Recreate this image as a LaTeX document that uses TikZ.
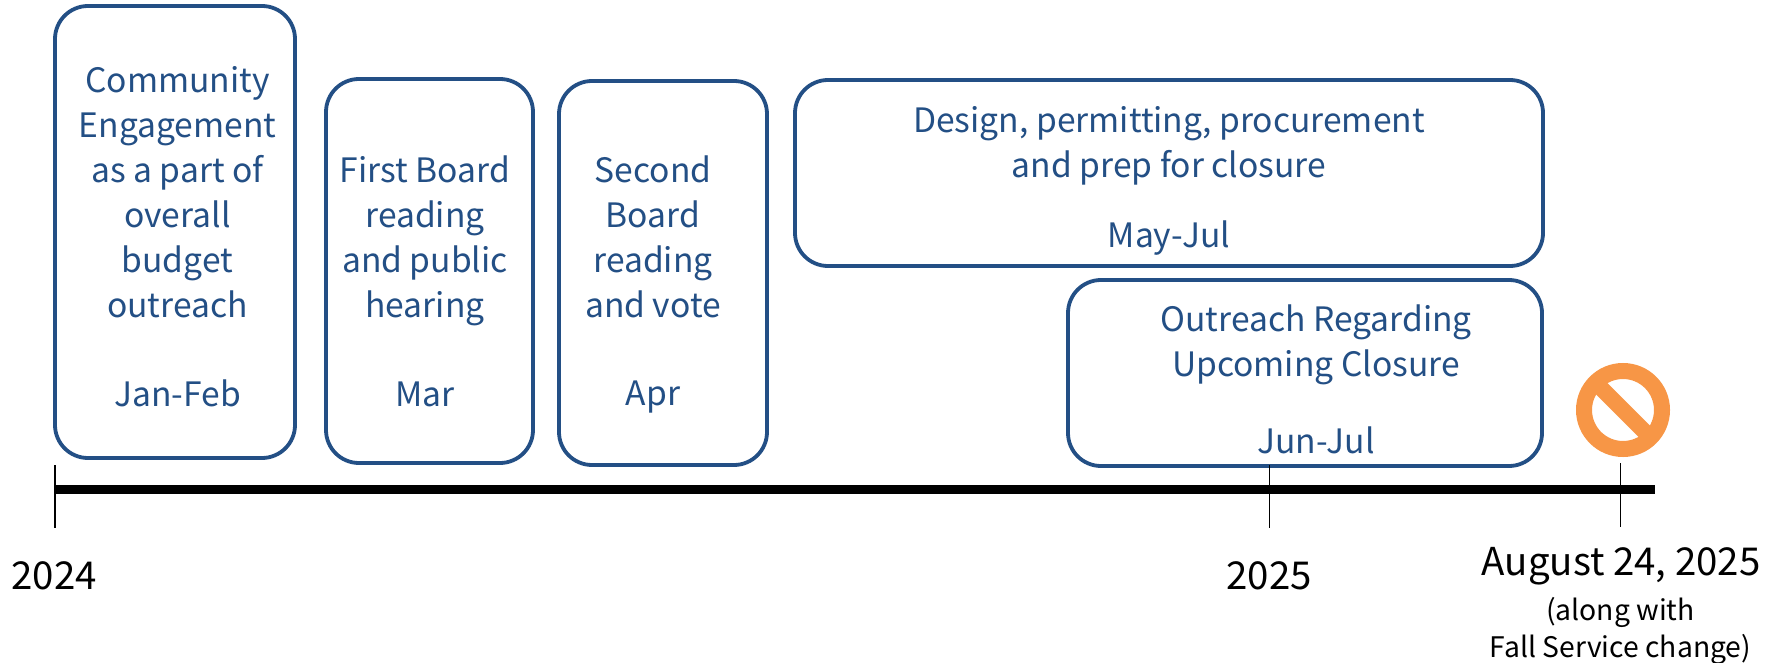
\documentclass[tikz,border=0pt]{standalone}
\usepackage{fontspec}
\setmainfont{Noto Sans CJK SC}
\definecolor{boxblue}{HTML}{234F85}
\definecolor{stoporange}{HTML}{F79646}
\begin{document}
\begin{tikzpicture}[x=1pt,y=-1pt,
  phase/.style={draw=boxblue,line width=3.8pt,rounded corners=33pt,fill=white},
  txt/.style={text=boxblue,font=\fontsize{33.6}{45}\selectfont,align=center,inner sep=0pt,anchor=center},
  dateblack/.style={text=black,font=\fontsize{38.4}{45}\selectfont,inner sep=0pt,anchor=center},
  noteblack/.style={text=black,font=\fontsize{28.3}{37}\selectfont,inner sep=0pt,anchor=center,align=center},
  tick/.style={draw=black,line width=1.8pt}]
\useasboundingbox (0,0) rectangle (1778,663);
\draw[phase] (55,6) rectangle (295,458);
\draw[phase] (326,79) rectangle (533,463);
\draw[phase] (559,81) rectangle (767,465);
\draw[phase] (795,80) rectangle (1543,266);
\draw[phase] (1068,280) rectangle (1542,466);
\node[txt] (a) at (177.5,192) {Community\\Engagement\\as a part of\\overall\\budget\\outreach};
\node[txt] (ad) at (177.5,393) {Jan-Feb};
\node[txt] (b) at (425,240.5) {First Board\\reading\\and public\\hearing};
\node[txt] (bd) at (425,394) {Mar};
\node[txt] (c) at (653,237) {Second\\Board\\reading\\and vote};
\node[txt] (cd) at (653,397.5) {Apr};
\node[txt] (d) at (1169,145.5) {Design, permitting, procurement\\and prep for closure};
\node[txt] (dd) at (1169,238) {May-Jul};
\node[txt] (e) at (1316,345) {Outreach Regarding\\Upcoming Closure};
\node[txt] (ed) at (1316,440) {Jun-Jul};
\coordinate (s) at (55,489.5);
\coordinate (t) at (1655,489.5);
\draw[line width=9pt] (s) -- (t);
\coordinate (t1a) at (55,465); \coordinate (t1b) at (55,528);
\coordinate (t2a) at (1269.5,465); \coordinate (t2b) at (1269.5,528);
\coordinate (t3a) at (1620.5,463); \coordinate (t3b) at (1620.5,527);
\draw[tick] (t1a) -- (t1b);
\draw[tick] (t2a) -- (t2b);
\draw[tick] (t3a) -- (t3b);
\node[dateblack] (y1) at (54,576) {2024};
\node[dateblack] (y2) at (1269,576) {2025};
\node[dateblack] (y3) at (1621,566) {August 24, 2025};
\node[noteblack] (n) at (1620.5,630.5) {(along with\\Fall Service change)};
\draw[stoporange,line width=16pt] (1623,410) circle (39pt);
\draw[stoporange,line width=16pt] (1623,410) ++(-28,-28) -- ++(56,56);
\end{tikzpicture}
\end{document}
